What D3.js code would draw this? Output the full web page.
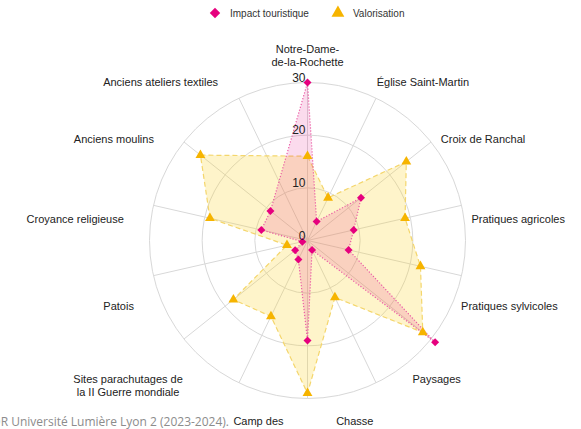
<!DOCTYPE html>
<html>
<head>
<meta charset="utf-8">
<script src="https://cdn.jsdelivr.net/npm/d3@7"></script>
<style>
  body { margin: 0; background: #fff; }
  svg { display: block; font-family: "Liberation Sans", Arial, sans-serif; }
</style>
</head>
<body>
<svg width="581" height="429"></svg>
<script>
/*
Data. The last spoke has no value in either series.
*/
var categories = ["Notre-Dame-de-la-Rochette", "Église Saint-Martin", "Croix de Ranchal",
    "Pratiques agricoles", "Pratiques sylvicoles", "Paysages", "Chasse", "Camp des Allemands",
    "Sites parachutages de la II Guerre mondiale", "Patois", "Croyance religieuse",
    "Anciens moulins", "Anciens ateliers textiles", ""];
var axisLabels = [["Notre-Dame-", "de-la-Rochette"], ["Église Saint-Martin"], ["Croix de Ranchal"],
    ["Pratiques agricoles"], ["Pratiques sylvicoles"], ["Paysages"], ["Chasse"], ["Camp des", "Allemands"],
    ["Sites parachutages de", "la II Guerre mondiale"], ["Patois"], ["Croyance religieuse"],
    ["Anciens moulins"], ["Anciens ateliers textiles"]];
var impact = [30, 4, 13, 9, 8, 31, 2, 19, 4, 3, 1, 9, 9, null];
var valorisation = [16, 9, 24, 19, 22, 28, 12, 29, 16, 18, 4, 19, 26, null];
var tickValues = [0, 10, 20, 30];
var seriesNames = ["Impact touristique", "Valorisation"];

var svg = d3.select("svg"),
    cx = 307.5, cy = 240.5, radius = 158,
    g = svg.append("g").attr("transform", "translate(" + cx + "," + cy + ")");

var rScale = d3.scaleLinear().domain([0, 30]).range([0, radius]),
    aScale = d3.scaleLinear().domain([0, categories.length]).range([0, 2 * Math.PI]),
    labelScale = d3.scaleLinear().domain([0, axisLabels.length]).range([0, 2 * Math.PI]);

var series = [
    {name: seriesNames[1], values: valorisation, fill: "rgba(250,210,45,0.25)", stroke: "#f4d66c",
        dash: "5,3", symbol: d3.symbolTriangle, size: 42, color: "#f6b400"},
    {name: seriesNames[0], values: impact, fill: "rgba(230,0,126,0.14)", stroke: "#ea5ba4",
        dash: "1.2,1.8", symbol: d3.symbolSquare, size: 32, color: "#e6007e", rotate: 45}
];

/* grid: rings and spokes */
g.selectAll(".ring")
    .data(tickValues.filter(function(t) { return t > 0; }))
    .enter().append("circle")
    .attr("r", function(d) { return rScale(d); })
    .attr("fill", "none")
    .attr("stroke", "#d8d8d8")
    .attr("stroke-width", 1);

g.selectAll(".spoke")
    .data(categories)
    .enter().append("line")
    .attr("x2", function(d, i) { return Math.sin(aScale(i)) * radius; })
    .attr("y2", function(d, i) { return -Math.cos(aScale(i)) * radius; })
    .attr("stroke", "#d8d8d8")
    .attr("stroke-width", 1);

/* areas, gaps are skipped */
var line = d3.lineRadial()
    .curve(d3.curveLinearClosed)
    .angle(function(d) { return aScale(d.i); })
    .radius(function(d) { return rScale(d.v); });

function points(s) {
    return s.values.map(function(v, i) { return {i: i, v: v}; })
        .filter(function(d) { return d.v != null; });
}

series.forEach(function(s) {
    g.append("path")
        .attr("d", line(points(s)))
        .attr("fill", s.fill)
        .attr("stroke", s.stroke)
        .attr("stroke-width", 1.2)
        .attr("stroke-dasharray", s.dash);
});

series.forEach(function(s) {
    g.selectAll(null)
        .data(points(s))
        .enter().append("path")
        .attr("d", d3.symbol().type(s.symbol).size(s.size))
        .attr("transform", function(d) {
            var x = Math.sin(aScale(d.i)) * rScale(d.v),
                y = -Math.cos(aScale(d.i)) * rScale(d.v);
            return "translate(" + x + "," + y + ")" + (s.rotate ? "rotate(" + s.rotate + ")" : "");
        })
        .attr("fill", s.color);
});

/* radial tick labels */
g.selectAll(".tick")
    .data(tickValues)
    .enter().append("text")
    .attr("x", -2)
    .attr("y", function(d) { return -rScale(d) - 5; })
    .attr("dy", "0.35em")
    .attr("text-anchor", "end")
    .style("font-size", "12px")
    .attr("fill", "#222")
    .text(function(d) { return d; });

/*
Category labels, anchored on a circle around the chart.
Side labels hang off their point (start/end), the ones near top and bottom are centred.
*/
var labelR = 179, lineH = 13;
axisLabels.forEach(function(lines, k) {
    var a = labelScale(k), s = Math.sin(a), c = Math.cos(a),
        t = g.append("text")
            .style("font-size", "11px")
            .attr("fill", "#222")
            .attr("text-anchor", "middle");
    lines.forEach(function(l, j) {
        t.append("tspan").attr("x", 0).attr("dy", j ? lineH : 0).text(l);
    });
    var w = t.node().getBBox().width,
        n = lines.length,
        px = s * labelR, py = -c * labelR,
        bx, firstY;
    if (Math.abs(s) < 0.3) bx = px + s * w / 2;
    else bx = px + (s > 0 ? -14 + w / 2 : -6 - w / 2);
    // top half: last line sits on the point; bottom half: first line just under it
    firstY = c > 0 ? py - (n - 1) * lineH : py - c * lineH / 2;
    t.attr("transform", "translate(" + bx + "," + (firstY + 4) + ")");
});

/* legend */
var legend = svg.append("g").attr("transform", "translate(0,13)"),
    lx = 210;
[series[1], series[0]].forEach(function(s) {
    legend.append("path")
        .attr("d", d3.symbol().type(s.symbol).size(s.size * 1.7))
        .attr("transform", "translate(" + (lx + 5) + ",0)" + (s.rotate ? "rotate(45)" : ""))
        .attr("fill", s.color);
    var t = legend.append("text")
        .attr("x", lx + 20)
        .attr("dy", "0.35em")
        .style("font-size", "10px")
        .attr("fill", "#333")
        .text(s.name);
    lx += 20 + t.node().getComputedTextLength() + 24;
});

/* source line, cut at the left edge */
svg.append("text")
    .attr("x", 229)
    .attr("y", 426)
    .attr("text-anchor", "end")
    .style("font-family", "'Open Sans', sans-serif")
    .style("font-size", "12px")
    .attr("fill", "#8c8c8c")
    .text("OR Université Lumière Lyon 2 (2023-2024).");
</script>
</body>
</html>
